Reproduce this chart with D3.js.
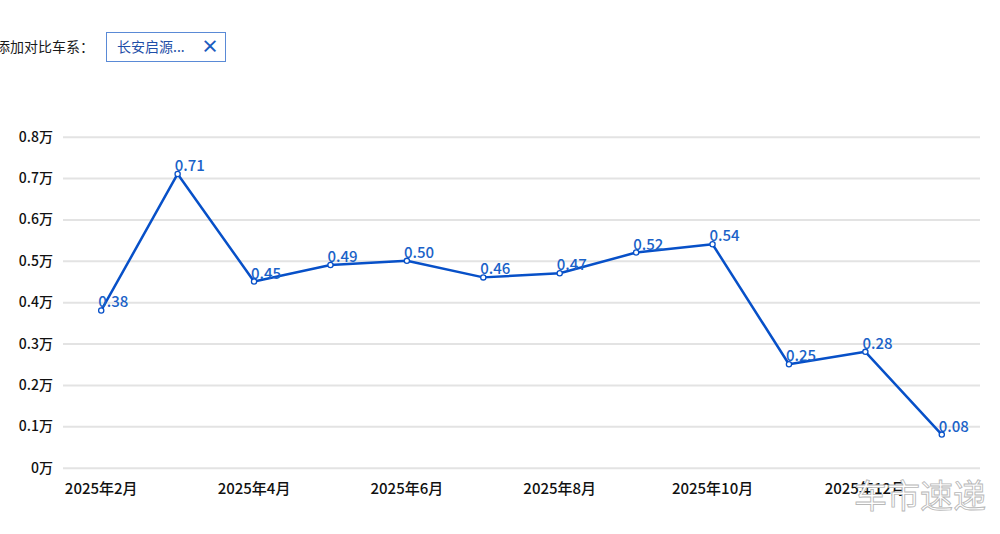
<!DOCTYPE html>
<html>
<head>
<meta charset="utf-8">
<script src="https://cdn.jsdelivr.net/npm/d3@7/dist/d3.min.js"></script>
<style>
  html, body { margin: 0; padding: 0; background: #fff; }
  svg { display: block; font-family: "Noto Sans CJK SC", "Noto Sans", sans-serif; }
</style>
</head>
<body>
<svg id="chart" width="1000" height="534"></svg>
<script>
const months = ["2025年2月","2025年3月","2025年4月","2025年5月","2025年6月","2025年7月","2025年8月","2025年9月","2025年10月","2025年11月","2025年12月","2026年1月"];
const sales = [0.38, 0.71, 0.45, 0.49, 0.50, 0.46, 0.47, 0.52, 0.54, 0.25, 0.28, 0.08];
const yTicks = [0, 0.1, 0.2, 0.3, 0.4, 0.5, 0.6, 0.7, 0.8];
const xTickLabels = ["2025年2月","2025年4月","2025年6月","2025年8月","2025年10月","2025年12月"];
const seriesName = "长安启源...";
const filterLabel = "添加对比车系：";
const watermark = "车市速递";

const svg = d3.select("#chart");
const W = 1000, H = 534;
const m = { left: 63, right: 20, top: 136.7, bottom: 66.3 };

const x = d3.scaleBand().domain(months).range([m.left, W - m.right]);
const y = d3.scaleLinear().domain([0, 0.8]).range([H - m.bottom, m.top]);
const cx = d => x(d) + x.bandwidth() / 2;

// header
svg.append("text").attr("x", -4).attr("y", 52).attr("font-size", 14).attr("fill", "#1a1a1a").text(filterLabel);
svg.append("rect").attr("x", 106.5).attr("y", 32.5).attr("width", 119).attr("height", 29)
  .attr("fill", "#fff").attr("stroke", "#5a8ad6").attr("stroke-width", 1);
svg.append("text").attr("x", 117).attr("y", 52).attr("font-size", 14).attr("fill", "#1f4fa8").text(seriesName);
svg.append("text").attr("x", 210).attr("y", 53).attr("font-size", 18).attr("font-weight", "bold")
  .attr("text-anchor", "middle").attr("fill", "#1a5bbf").text("×");

// grid
const yAxis = d3.axisLeft(y).tickValues(yTicks).tickSize(-(W - m.left - m.right)).tickPadding(10)
  .tickFormat(d => (d === 0 ? "0" : d3.format(".1f")(d)) + "万");
const gy = svg.append("g").attr("transform", `translate(${m.left},0)`).call(yAxis);
gy.select(".domain").remove();
gy.selectAll(".tick line").attr("stroke", "#e3e3e3").attr("stroke-width", 2);
gy.selectAll(".tick text").attr("font-size", 14).attr("fill", "#111").attr("font-weight", 500)
  .attr("font-family", "'Noto Sans CJK SC', sans-serif");

// x axis
const xAxis = d3.axisBottom(x).tickValues(xTickLabels).tickSize(0).tickPadding(16);
const gx = svg.append("g").attr("transform", `translate(0,${H - m.bottom})`).call(xAxis);
gx.select(".domain").remove();
gx.selectAll(".tick text").attr("font-size", 15).attr("fill", "#111").attr("font-weight", 500)
  .attr("font-family", "'Noto Sans CJK SC', sans-serif");

// line
const line = d3.line().x((d, i) => cx(months[i])).y(d => y(d));
svg.append("path").datum(sales).attr("d", line).attr("fill", "none")
  .attr("stroke", "#0750c8").attr("stroke-width", 2.5).attr("stroke-linejoin", "round");

// labels
svg.selectAll(".lbl").data(sales).enter().append("text").attr("class", "lbl")
  .attr("x", (d, i) => cx(months[i]) - 3).attr("y", d => y(d) - 3)
  .attr("font-size", 15).attr("font-weight", 500).attr("fill", "#1a62c8").text(d => d3.format(".2f")(d));

// points
svg.selectAll(".pt").data(sales).enter().append("circle").attr("class", "pt")
  .attr("cx", (d, i) => cx(months[i])).attr("cy", d => y(d)).attr("r", 2.6)
  .attr("fill", "#fff").attr("stroke", "#0750c8").attr("stroke-width", 1.3);

// watermark
svg.append("text").attr("x", 920).attr("y", 508).attr("text-anchor", "middle")
  .attr("font-size", 33).attr("fill", "#fff").attr("stroke", "#b8b8b8").attr("stroke-width", 0.9)
  .text(watermark);
</script>
</body>
</html>
